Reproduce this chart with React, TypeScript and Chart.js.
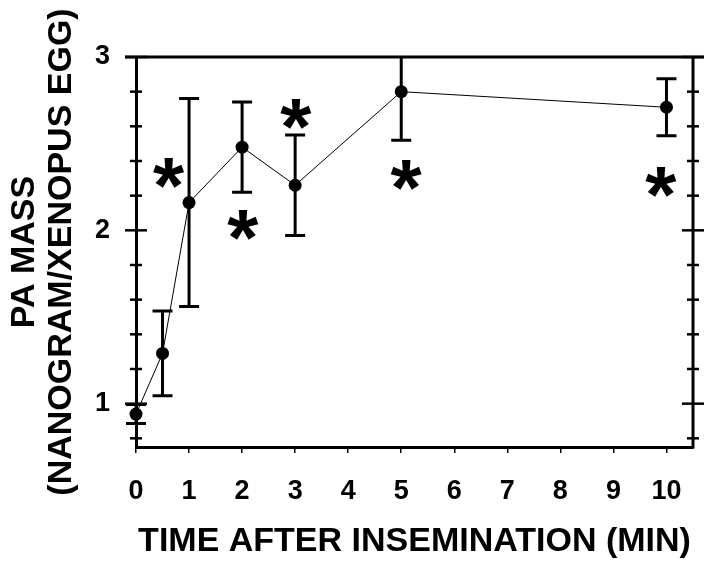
import React, { useEffect, useRef } from "react";
import { Chart, registerables } from "chart.js";

Chart.register(...registerables);

const times = [0, 0.5, 1, 2, 3, 5, 10];
const mass = [0.94, 1.29, 2.16, 2.48, 2.26, 2.8, 2.71];
const errs = [0.055, 0.245, 0.6, 0.26, 0.29, 0.28, 0.165];

const starX = [0.62, 2.02, 3.02, 5.1, 9.9];
const starY = [2.33, 2.03, 2.67, 2.32, 2.28];

const xTitle = "TIME AFTER INSEMINATION (MIN)";
const yTitle = ["PA MASS", "(NANOGRAM/XENOPUS EGG)"];

const FONT = "'Liberation Sans', Arial, sans-serif";

const overlay = {
  id: "overlay",
  beforeDatasetsDraw(chart: any) {
    const { ctx, chartArea, scales } = chart;
    const x = scales.x;
    const y = scales.y;
    ctx.save();
    ctx.beginPath();
    ctx.rect(0, chartArea.top, chart.width, chart.height - chartArea.top);
    ctx.clip();
    ctx.strokeStyle = "#000";
    ctx.lineWidth = 3;
    times.forEach((t, i) => {
      const px = x.getPixelForValue(t);
      const top = y.getPixelForValue(mass[i] + errs[i]);
      const bot = y.getPixelForValue(mass[i] - errs[i]);
      ctx.beginPath();
      ctx.moveTo(px, top);
      ctx.lineTo(px, bot);
      ctx.moveTo(px - 10, top);
      ctx.lineTo(px + 10, top);
      ctx.moveTo(px - 10, bot);
      ctx.lineTo(px + 10, bot);
      ctx.stroke();
    });
    ctx.restore();
  },
  afterDraw(chart: any) {
    const { ctx, chartArea, scales } = chart;
    const y = scales.y;
    const x = scales.x;
    const { left, right, top, bottom } = chartArea;
    ctx.save();
    ctx.strokeStyle = "#000";
    ctx.lineCap = "butt";
    // top frame
    ctx.lineWidth = 3;
    ctx.beginPath();
    ctx.moveTo(left - 11, top);
    ctx.lineTo(right + 11, top);
    ctx.stroke();
    // right axis
    ctx.beginPath();
    ctx.moveTo(right, top);
    ctx.lineTo(right, bottom + 1.5);
    ctx.stroke();
    // y ticks both sides
    ctx.lineWidth = 2.5;
    for (let k = 4; k <= 15; k++) {
      const v = k / 5;
      const py = y.getPixelForValue(v);
      const major = k % 5 === 0;
      const len = major ? 11 : 6;
      [left, right].forEach((ax) => {
        ctx.beginPath();
        ctx.moveTo(ax - len, py);
        ctx.lineTo(ax + len, py);
        ctx.stroke();
      });
    }
    // asterisks
    ctx.fillStyle = "#000";
    ctx.font = `bold 80px ${FONT}`;
    const m = ctx.measureText("*");
    const asc = m.actualBoundingBoxAscent;
    const desc = m.actualBoundingBoxDescent;
    const l = m.actualBoundingBoxLeft;
    const r = m.actualBoundingBoxRight;
    ctx.textAlign = "left";
    ctx.textBaseline = "alphabetic";
    starX.forEach((sx, i) => {
      const px = x.getPixelForValue(sx);
      const py = y.getPixelForValue(starY[i]);
      ctx.fillText("*", px - (r - l) / 2, py + (asc - desc) / 2);
    });
    ctx.restore();
  },
};

export default function App() {
  const ref = useRef<HTMLCanvasElement | null>(null);
  useEffect(() => {
    if (!ref.current) return;
    const chart = new Chart(ref.current, {
      type: "line",
      data: {
        datasets: [
          {
            data: times.map((t, i) => ({ x: t, y: mass[i] })),
            borderColor: "#000",
            borderWidth: 1,
            backgroundColor: "#000",
            pointRadius: 6.5,
            pointBorderWidth: 0,
            pointBackgroundColor: "#000",
            clip: false as any,
            tension: 0,
          },
        ],
      },
      options: {
        responsive: false,
        animation: false,
        events: [],
        layout: { padding: { top: 57, right: 21, left: 0, bottom: 0 } },
        plugins: { legend: { display: false }, tooltip: { enabled: false } },
        scales: {
          x: {
            type: "linear",
            min: 0,
            max: 10.5,
            afterFit: (s: any) => {
              s.height = 118;
            },
            ticks: {
              stepSize: 1,
              includeBounds: false,
              color: "#000",
              padding: 22,
              font: { family: FONT, size: 27, weight: "bold" },
              maxRotation: 0,
            },
            grid: {
              display: true,
              drawOnChartArea: false,
              drawTicks: true,
              tickLength: 6,
              color: "#000",
              lineWidth: 1.5,
            },
            border: { display: true, color: "#000", width: 3 },
            title: {
              display: true,
              text: xTitle,
              color: "#000",
              font: { family: FONT, size: 34, weight: "bold" },
              padding: { top: 8, bottom: 3 },
            },
          },
          y: {
            type: "linear",
            min: 0.75,
            max: 3,
            afterFit: (s: any) => {
              s.width = 136;
            },
            ticks: {
              stepSize: 1,
              includeBounds: false,
              color: "#000",
              padding: 26,
              font: { family: FONT, size: 27, weight: "bold" },
            },
            grid: { display: false, drawTicks: false },
            border: { display: true, color: "#000", width: 3 },
            title: {
              display: true,
              text: yTitle,
              color: "#000",
              font: { family: FONT, size: 34, weight: "bold", lineHeight: 1.1 },
              padding: { top: 6, bottom: 0 },
            },
          },
        },
      },
      plugins: [overlay],
    });
    return () => chart.destroy();
  }, []);
  return (
    <div style={{ position: "fixed", left: 0, top: 0, width: 714, height: 565, background: "#fff" }}>
      <canvas ref={ref} width={714} height={565} />
    </div>
  );
}
